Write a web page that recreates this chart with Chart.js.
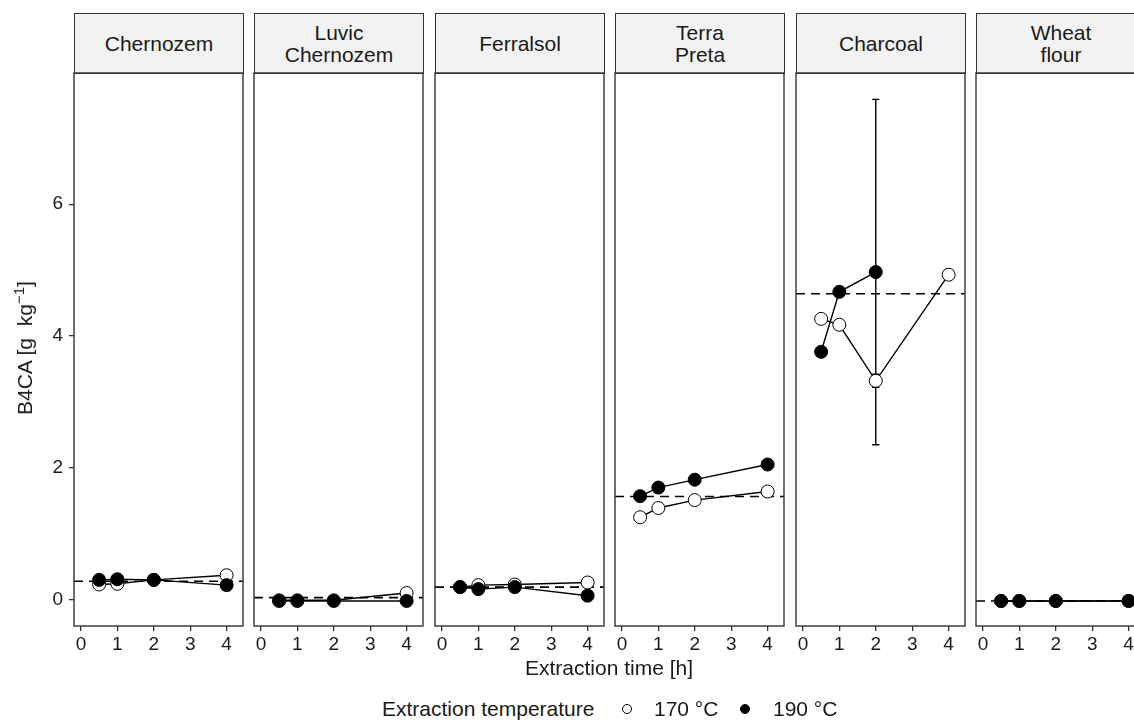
<!DOCTYPE html>
<html>
<head>
<meta charset="utf-8">
<script src="https://cdn.jsdelivr.net/npm/chart.js@4/dist/chart.umd.min.js"></script>
<style>
  body { margin: 0; background: #fff; font-family: "Liberation Sans", Arial, sans-serif; }
  #wrap { position: relative; width: 1134px; height: 724px; overflow: hidden; }
  .strip {
    position: absolute; top: 13px; height: 61px; width: 170px;
    background: #f2f2f2; border: 1.4px solid #333; box-sizing: border-box;
    display: flex; align-items: center; justify-content: center; text-align: center;
    font-size: 21px; line-height: 22px; color: #1a1a1a; white-space: pre;
  }
  canvas { position: absolute; }
  .txt { position: absolute; font-size: 21px; color: #1a1a1a; white-space: nowrap; }
  .key { position: absolute; width: 10px; height: 10px; border-radius: 50%; border: 1px solid #000; box-sizing: border-box; }
</style>
</head>
<body>
<div id="wrap"></div>
<script>
// facets, x values and tick labels
const panels = ['Chernozem', 'Luvic\nChernozem', 'Ferralsol', 'Terra\nPreta', 'Charcoal', 'Wheat\nflour'];
const times = [0.5, 1, 2, 4];
const xTicks = [0, 1, 2, 3, 4];
const yTicks = [0, 2, 4, 6];

// B4CA [g/kg] per facet, 170 °C (open) and 190 °C (filled)
const b4ca170 = [
  [0.23, 0.24, 0.30, 0.37],
  [-0.01, -0.01, -0.01, 0.10],
  [0.19, 0.22, 0.23, 0.26],
  [1.25, 1.39, 1.51, 1.64],
  [4.26, 4.17, 3.32, 4.93],
  [-0.02, -0.02, -0.02, -0.02]
];
const b4ca190 = [
  [0.30, 0.31, 0.30, 0.22],
  [-0.02, -0.02, -0.02, -0.02],
  [0.19, 0.16, 0.19, 0.06],
  [1.57, 1.70, 1.82, 2.05],
  [3.76, 4.67, 4.97, null],
  [-0.02, -0.02, -0.02, -0.02]
];
// standard deviations
const sd170 = [
  [0, 0, 0, 0],
  [0, 0, 0, 0],
  [0, 0, 0, 0],
  [0, 0, 0.06, 0],
  [0, 0, 0.10, 0],
  [0, 0, 0, 0]
];
const sd190 = [
  [0, 0, 0, 0],
  [0, 0, 0, 0],
  [0, 0, 0, 0],
  [0, 0, 0, 0],
  [0, 0, 2.62, 0],
  [0, 0, 0, 0]
];
// reference value (dashed line)
const referenceB4ca = [0.28, 0.03, 0.19, 1.565, 4.64, -0.02];

const wrap = document.getElementById('wrap');
const INK = '#333333';
const TEXT = '#1a1a1a';
const plotTop = 73, plotH = 553, plotW = 169;
const lefts = [74, 254, 435, 615, 796, 976];

// panel border, dashed reference line and error bars
const facetPlugin = {
  id: 'facet',
  beforeDatasetsDraw(chart) {
    const { ctx, chartArea: a, scales: { x, y } } = chart;
    const ref = chart.options.plugins.facet.reference;
    ctx.save();
    ctx.beginPath();
    ctx.rect(a.left, a.top, a.right - a.left, a.bottom - a.top);
    ctx.clip();
    // dashed line
    const yr = y.getPixelForValue(ref);
    ctx.strokeStyle = '#000';
    ctx.lineWidth = 1.6;
    ctx.setLineDash([9, 6]);
    ctx.beginPath();
    ctx.moveTo(a.left, yr);
    ctx.lineTo(a.right, yr);
    ctx.stroke();
    ctx.setLineDash([]);
    // error bars
    ctx.lineWidth = 1.4;
    chart.data.datasets.forEach(ds => {
      if (!ds.errors) return;
      ds.data.forEach((p, i) => {
        const e = ds.errors[i];
        if (p.y == null || !e) return;
        const px = x.getPixelForValue(p.x);
        const y1 = y.getPixelForValue(p.y - e), y2 = y.getPixelForValue(p.y + e);
        const c1 = x.getPixelForValue(p.x - 0.1), c2 = x.getPixelForValue(p.x + 0.1);
        ctx.beginPath();
        ctx.moveTo(px, y1); ctx.lineTo(px, y2);
        ctx.moveTo(c1, y1); ctx.lineTo(c2, y1);
        ctx.moveTo(c1, y2); ctx.lineTo(c2, y2);
        ctx.stroke();
      });
    });
    ctx.restore();
  },
  afterDraw(chart) {
    const { ctx, chartArea: a } = chart;
    ctx.save();
    ctx.strokeStyle = INK;
    ctx.lineWidth = 1.4;
    ctx.strokeRect(a.left, a.top, a.right - a.left, a.bottom - a.top);
    ctx.restore();
  }
};

panels.forEach((name, k) => {
  const first = k === 0;
  const padL = first ? 0 : 10;
  const yW = first ? 74 : 0;
  const padT = 8, padR = 14, xH = 40;
  const canvasLeft = lefts[k] - yW - padL;

  const strip = document.createElement('div');
  strip.className = 'strip';
  strip.style.left = lefts[k] + 'px';
  strip.textContent = name;
  wrap.appendChild(strip);

  const cv = document.createElement('canvas');
  cv.width = yW + padL + plotW + padR;
  cv.height = padT + plotH + xH;
  cv.style.left = canvasLeft + 'px';
  cv.style.top = (plotTop - padT) + 'px';
  wrap.appendChild(cv);

  const pts = arr => times.map((t, i) => ({ x: t, y: arr[i] }));

  new Chart(cv, {
    type: 'line',
    data: {
      datasets: [
        { data: pts(b4ca170[k]), borderColor: '#000', borderWidth: 1.4, pointRadius: 0, spanGaps: false, order: 4 },
        { data: pts(b4ca190[k]), borderColor: '#000', borderWidth: 1.4, pointRadius: 0, spanGaps: false, order: 3 },
        { data: pts(b4ca170[k]), errors: sd170[k], showLine: false, pointRadius: 6.5,
          pointBackgroundColor: '#fff', pointBorderColor: '#000', pointBorderWidth: 1, order: 2 },
        { data: pts(b4ca190[k]), errors: sd190[k], showLine: false, pointRadius: 6.5,
          pointBackgroundColor: '#000', pointBorderColor: '#000', pointBorderWidth: 1, order: 1 }
      ]
    },
    options: {
      responsive: false,
      animation: false,
      devicePixelRatio: 1,
      layout: { padding: { left: padL, right: padR, top: padT, bottom: 0 } },
      plugins: {
        legend: { display: false },
        tooltip: { enabled: false },
        facet: { reference: referenceB4ca[k] }
      },
      scales: {
        x: {
          type: 'linear',
          min: -0.19,
          max: 4.45,
          afterBuildTicks: s => { s.ticks = xTicks.map(v => ({ value: v })); },
          afterFit: s => { s.height = xH; s.paddingLeft = 0; s.paddingRight = 0; },
          border: { display: false },
          grid: { drawOnChartArea: false, drawTicks: true, tickLength: 5, color: INK, lineWidth: 1.3 },
          ticks: { font: { size: 19, family: '"Liberation Sans", Arial, sans-serif' }, color: TEXT, padding: 2, maxRotation: 0 }
        },
        y: {
          display: first,
          min: -0.40,
          max: 7.99,
          afterBuildTicks: s => { s.ticks = yTicks.map(v => ({ value: v })); },
          afterFit: s => { s.width = yW; s.paddingTop = 0; s.paddingBottom = 0; },
          border: { display: false },
          grid: { drawOnChartArea: false, drawTicks: true, tickLength: 5, color: INK, lineWidth: 1.3 },
          ticks: { font: { size: 19, family: '"Liberation Sans", Arial, sans-serif' }, color: TEXT, padding: 6 }
        }
      }
    },
    plugins: [facetPlugin]
  });
});

// axis titles and legend
function addText(html, css) {
  const d = document.createElement('div');
  d.className = 'txt';
  d.innerHTML = html;
  Object.assign(d.style, css);
  wrap.appendChild(d);
  return d;
}
addText('Extraction time [h]', { left: '609px', top: '668px', transform: 'translate(-50%,-50%)' });
addText('B4CA [g&nbsp;&nbsp;kg<sup style="font-size:15px;line-height:0">−1</sup>]',
  { left: '25px', top: '348px', transform: 'translate(-50%,-50%) rotate(-90deg)' });
addText('Extraction temperature', { left: '382px', top: '709px', transform: 'translateY(-50%)' });
addText('170 °C', { left: '654px', top: '709px', transform: 'translateY(-50%)' });
addText('190 °C', { left: '773px', top: '709px', transform: 'translateY(-50%)' });
const k1 = document.createElement('div');
k1.className = 'key';
Object.assign(k1.style, { left: '622px', top: '704px', background: '#fff' });
wrap.appendChild(k1);
const k2 = document.createElement('div');
k2.className = 'key';
Object.assign(k2.style, { left: '740px', top: '704px', background: '#000' });
wrap.appendChild(k2);
</script>
</body>
</html>
